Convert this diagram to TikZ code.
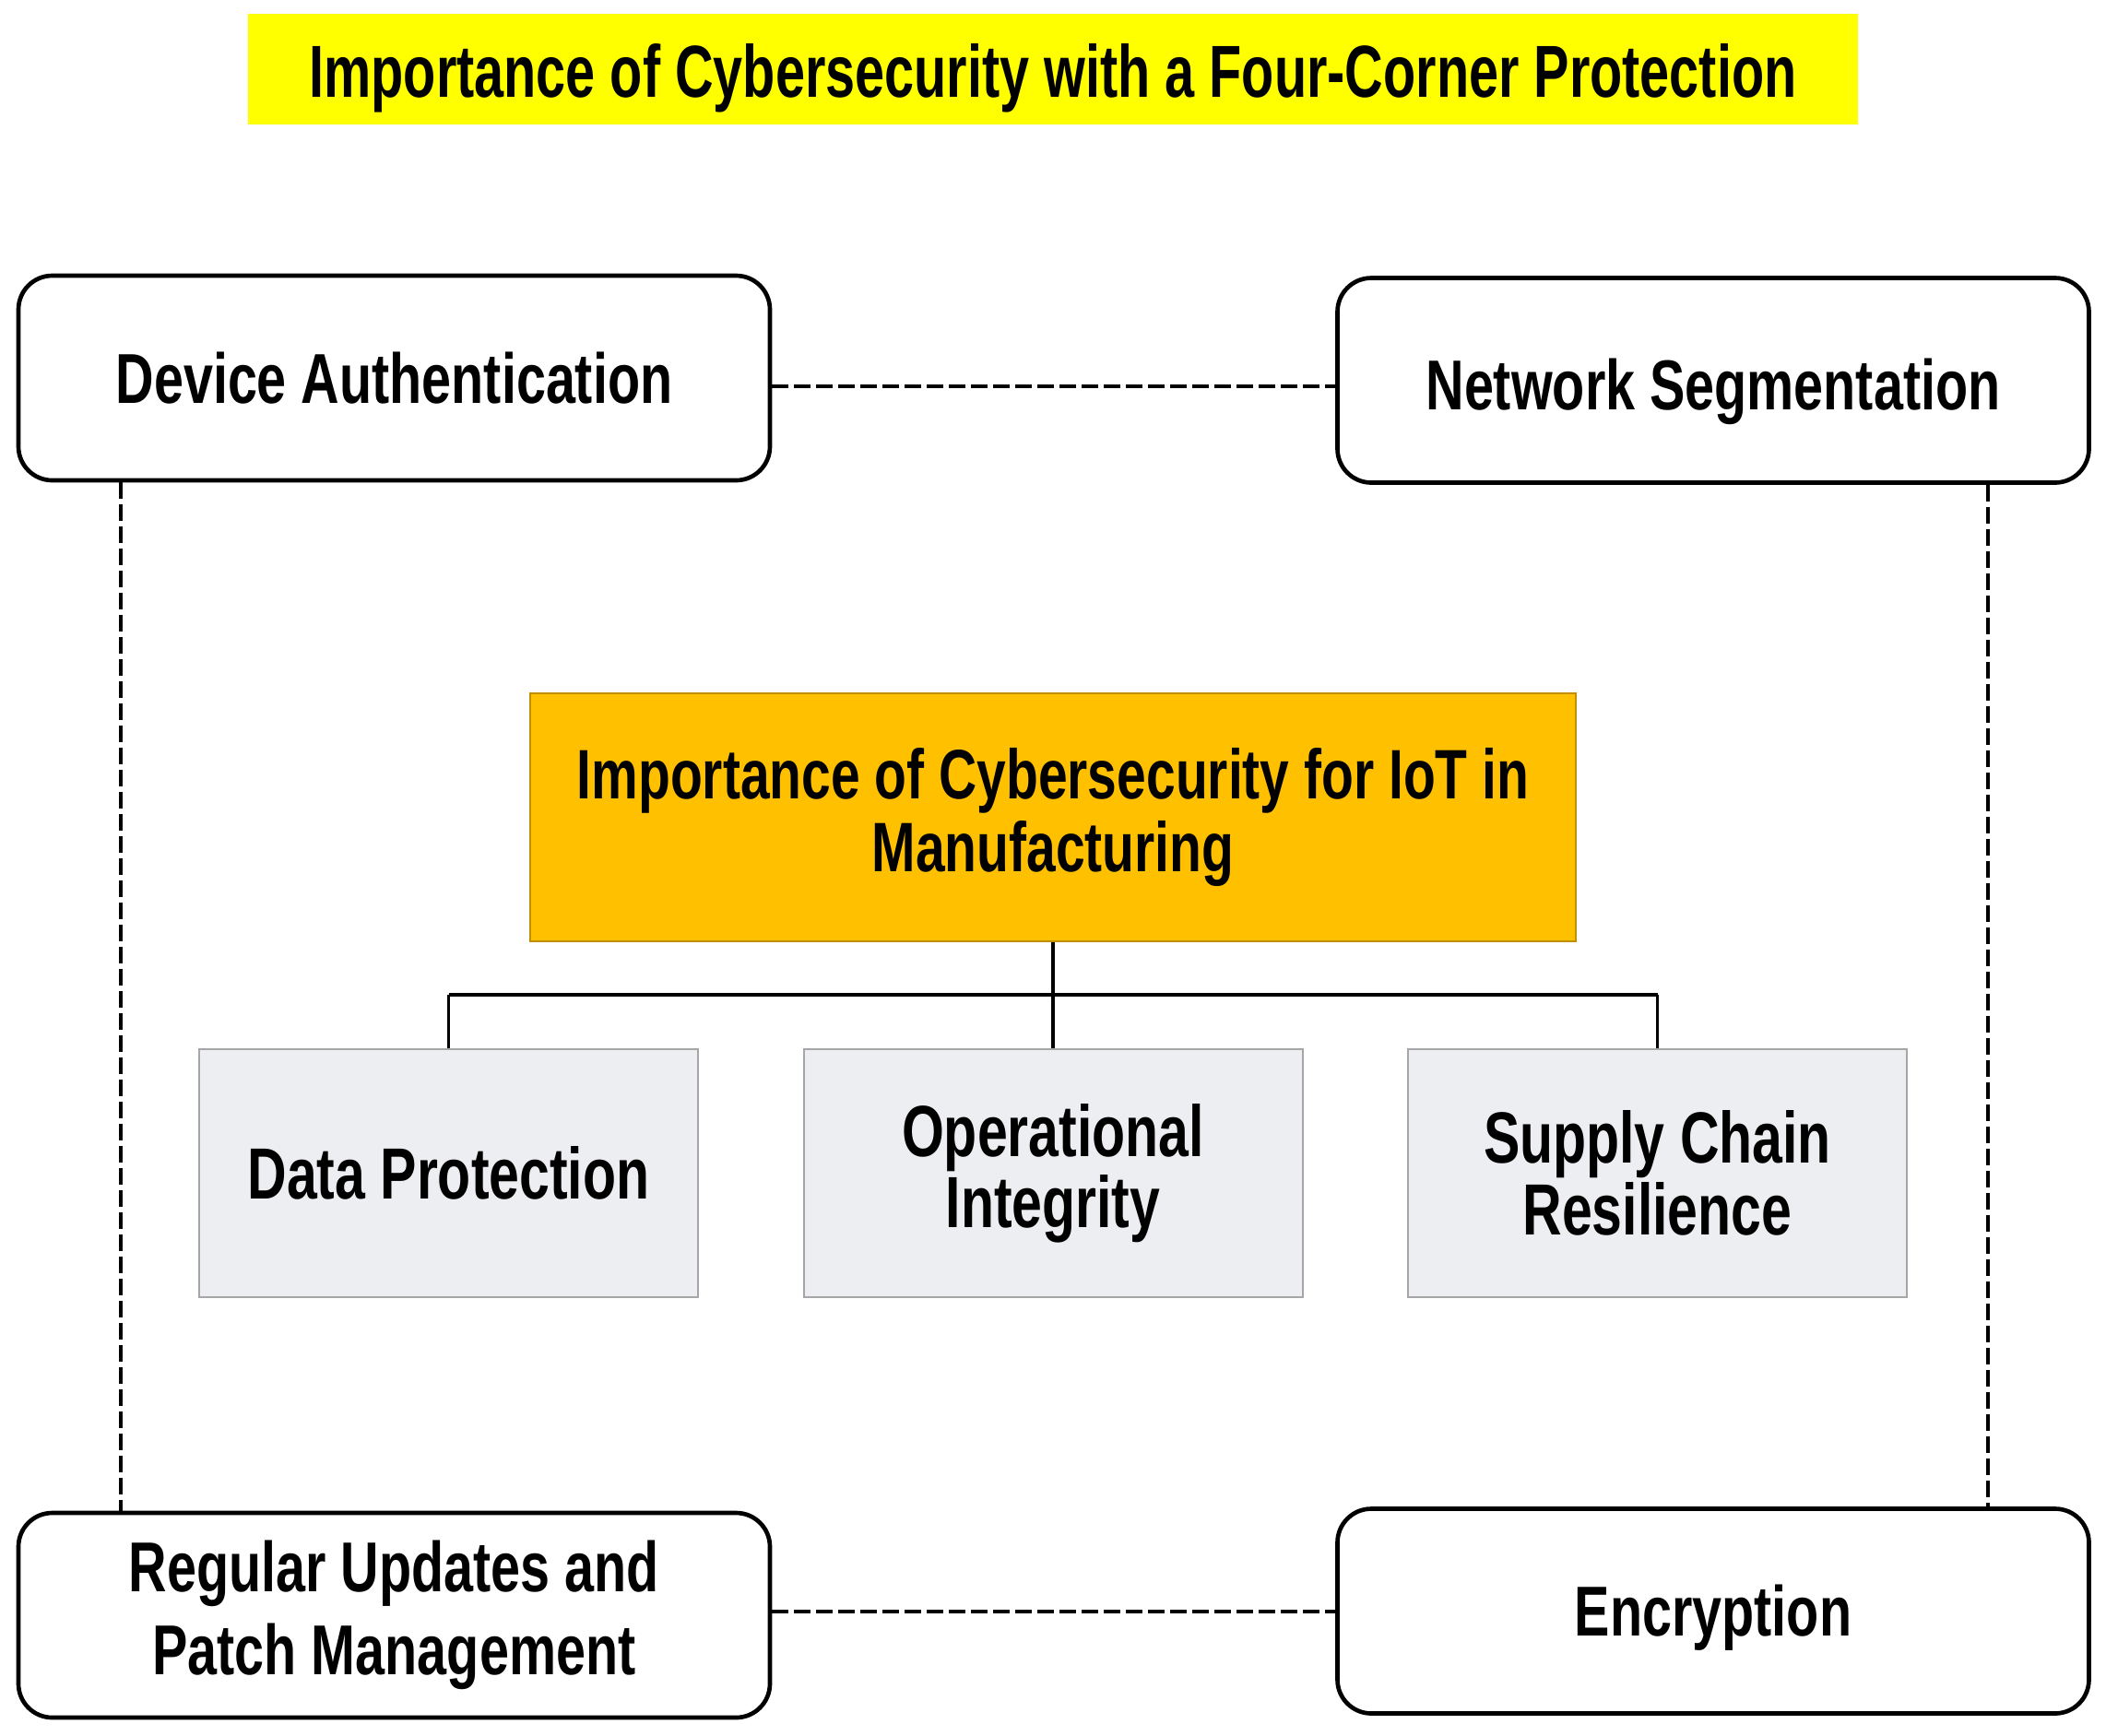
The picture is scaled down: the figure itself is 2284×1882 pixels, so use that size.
\documentclass[tikz,border=0pt]{standalone}
\usepackage{fontspec}
\setmainfont{Liberation Sans}[FakeStretch=0.75]
\newfontfamily\titlefont{Liberation Sans}[FakeStretch=0.72]
\usetikzlibrary{calc}
\definecolor{titleyellow}{HTML}{FFFF00}
\definecolor{centerorange}{HTML}{FFC000}
\definecolor{centeredge}{HTML}{C09000}
\definecolor{subfill}{HTML}{EDEEF1}
\definecolor{subedge}{HTML}{A6A6A6}
\tikzset{
  cornerbox/.style={draw=black, line width=1.4pt, rounded corners=11pt, fill=white,
    minimum width=244.5pt, minimum height=66.6pt, align=center, inner sep=0pt,
    font=\bfseries\fontsize{23}{27}\selectfont},
  centerbox/.style={draw=centeredge, line width=0.6pt, fill=centerorange,
    minimum width=340.2pt, minimum height=80.7pt, align=center, inner sep=0pt,
    font=\bfseries\fontsize{22.8}{23.6}\selectfont},
  subbox/.style={draw=subedge, line width=0.6pt, fill=subfill,
    minimum width=162.3pt, minimum height=80.7pt, align=center, inner sep=0pt,
    font=\bfseries\fontsize{23.6}{23.2}\selectfont},
  titlebox/.style={fill=titleyellow, minimum width=523.8pt, minimum height=36pt,
    inner sep=0pt, font=\titlefont\bfseries\fontsize{24}{26}\selectfont},
  dashlink/.style={line width=1.35pt, dash pattern=on 5.4pt off 1.8pt},
  treelink/.style={line width=1.1pt, draw=black}
}
\begin{document}
\begin{tikzpicture}[x=0.3pt, y=-0.3pt]
\useasboundingbox (0,0) rectangle (2284,1882);
\node[titlebox] (title) at (1142,75) {\rule{0pt}{23pt}Importance of Cybersecurity with a Four-Corner Protection};
\node[cornerbox] (dev) at (427.5,410) {Device Authentication};
\node[cornerbox] (net) at (1858,412.5) {\rule{0pt}{24pt}Network Segmentation};
\node[cornerbox] (reg) at (427.5,1752) {Regular Updates and\\Patch Management};
\node[cornerbox] (enc) at (1858,1747.5) {\rule{0pt}{21pt}Encryption};
\node[centerbox] (ctr) at (1142,886.5) {Importance of Cybersecurity for IoT in\\Manufacturing};
\node[subbox] (dp) at (486.5,1272.5) {Data Protection};
\node[subbox] (oi) at (1142,1272.5) {Operational\\Integrity};
\node[subbox] (sc) at (1797.5,1272.5) {Supply Chain\\Resilience};
\coordinate (lx) at (131,0);
\coordinate (rx) at (2156,0);
\coordinate (ty) at (0,419);
\coordinate (by) at (0,1748);
\coordinate (jy) at (0,1079);
% dashed frame
\draw[dashlink] (dev.east |- ty) -- (net.west |- ty);
\draw[dashlink] (reg.east |- by) -- (enc.west |- by);
\draw[dashlink] (dev.south -| lx) -- (reg.north -| lx);
\draw[dashlink] (net.south -| rx) -- (enc.north -| rx);
% tree
\draw[treelink] (ctr.south) -- (ctr.south |- jy);
\draw[treelink] (dp.north |- jy) -- (sc.north |- jy);
\draw[treelink] (dp.north |- jy) -- (dp.north);
\draw[treelink] (oi.north |- jy) -- (oi.north);
\draw[treelink] (sc.north |- jy) -- (sc.north);
\end{tikzpicture}
\end{document}
